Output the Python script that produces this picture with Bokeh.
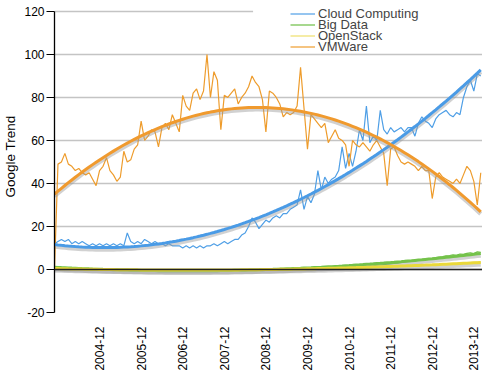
import numpy as np
from bokeh.plotting import figure
from bokeh.models import Range1d, FixedTicker, Span, BoxAnnotation, Legend, LegendItem
from bokeh.embed import file_html
from bokeh.resources import INLINE

# ---------------- data (monthly readings, 2004-01 .. 2014-04) ----------------
tick_labels = ["2004-12", "2005-12", "2006-12", "2007-12", "2008-12",
               "2009-12", "2010-12", "2011-12", "2012-12", "2013-12"]
y_ticks = [-20, 0, 20, 40, 60, 80, 100, 120]

cloud = [12, 13, 14, 13, 14, 12, 13, 12, 13, 12,
         11, 12, 11, 12, 11, 12, 11, 12, 11, 12,
         11, 17, 13, 12, 13, 12, 14, 13, 12, 13,
         12, 12, 11, 12, 11, 11, 11, 10, 11, 10,
         11, 10, 11, 10, 11, 11, 12, 11, 12, 13,
         12, 13, 14, 14, 16, 17, 20, 24, 22, 19,
         21, 23, 22, 24, 25, 24, 26, 26, 28, 29,
         30, 37, 28, 34, 31, 35, 46, 37, 43, 40,
         42, 43, 46, 57, 47, 54, 48, 55, 65, 60,
         76, 59, 62, 60, 74, 65, 63, 66, 64, 65,
         66, 64, 66, 66, 62, 68, 71, 69, 68, 66,
         70, 72, 73, 74, 72, 71, 73, 72, 80, 85,
         88, 83, 91, 90]

vmware = [0, 49, 50, 54, 49, 48, 46, 47, 45, 44,
          45, 42, 39, 46, 48, 52, 46, 44, 41, 43,
          55, 50, 51, 56, 58, 69, 60, 62, 65, 64,
          57, 66, 68, 65, 72, 68, 64, 81, 76, 74,
          82, 84, 79, 83, 100, 80, 92, 88, 65, 81,
          80, 82, 84, 77, 80, 82, 85, 90, 87, 85,
          79, 64, 83, 82, 80, 77, 71, 73, 72, 73,
          76, 94, 75, 56, 72, 70, 68, 66, 68, 59,
          62, 65, 61, 60, 58, 48, 60, 58, 57, 59,
          57, 55, 58, 60, 57, 54, 39, 56, 57, 53,
          50, 49, 50, 49, 48, 46, 48, 46, 46, 33,
          43, 45, 43, 42, 41, 40, 42, 40, 44, 48,
          46, 41, 30, 45]

bigdata = [0] * 70 + [
    0.3, 0.3, 0.4, 0.4, 0.5, 0.5, 0.6, 0.6, 0.7, 0.8,
    0.8, 0.9, 1.0, 1.0, 1.1, 1.2, 1.3, 1.3, 1.4, 1.5,
    1.6, 1.7, 1.8, 2.0, 2.1, 2.3, 2.5, 2.6, 2.8, 3.0,
    3.2, 3.4, 3.6, 3.8, 4.0, 4.3, 4.5, 4.8, 5.0, 5.2,
    5.5, 5.8, 6.0, 6.3, 6.5, 6.8, 6.6, 7.2, 7.0, 7.5,
    7.8, 7.4, 8.2, 8.0]

openstack = [0] * 80 + [
    0.1, 0.2, 0.2, 0.3, 0.4, 0.5, 0.5, 0.6, 0.7, 0.8,
    0.8, 0.9, 1.0, 1.0, 1.1, 1.2, 1.3, 1.3, 1.4, 1.5,
    1.6, 1.7, 1.8, 1.8, 1.9, 2.0, 2.1, 2.2, 2.2, 2.3,
    2.4, 2.5, 2.6, 2.6, 2.7, 2.8, 2.9, 3.0, 3.0, 3.1,
    3.2, 3.3, 3.4, 3.5]

months = list(range(len(cloud)))
tick_pos = [13 + 12 * k for k in range(len(tick_labels))]

series = [("Cloud Computing", cloud, "#4F9FE6", "#4A9BE6"),
          ("Big Data", bigdata, "#6DBF45", "#74C24A"),
          ("OpenStack", openstack, "#EEE06A", "#EAD93A"),
          ("VMWare", vmware, "#EE9C2C", "#F09A2E")]

FONT = "Liberation Sans"

# frame spans the full top of the canvas; y=120 falls 11px below the top
p = figure(width=482, height=374, output_backend="svg", toolbar_location=None,
           x_range=Range1d(0, 123.5), y_range=Range1d(-20, 125.1),
           min_border_left=49, min_border_right=0, min_border_top=0,
           min_border_bottom=62)
p.outline_line_color = None
p.background_fill_color = "white"
p.border_fill_color = "white"

p.xgrid.visible = False
p.ygrid.ticker = FixedTicker(ticks=y_ticks)
p.ygrid.grid_line_color = "#c4c4c4"
p.ygrid.grid_line_width = 1.3

# hide part of the top gridline behind the legend area
mask = BoxAnnotation(left=57.3, bottom=119, fill_color="white", fill_alpha=1,
                     line_color=None, level="underlay")
p.add_layout(mask)

# y axis
p.yaxis.ticker = FixedTicker(ticks=y_ticks)
p.yaxis.bounds = (y_ticks[0], y_ticks[-1])
p.yaxis.major_label_overrides = {t: str(t) for t in y_ticks}
p.yaxis.axis_line_color = "black"
p.yaxis.axis_line_width = 1.3
p.yaxis.major_tick_line_color = "black"
p.yaxis.major_tick_line_width = 1.2
p.yaxis.major_tick_out = 8
p.yaxis.major_tick_in = 0
p.yaxis.minor_tick_line_color = None
p.yaxis.major_label_standoff = 2
p.yaxis.major_label_text_font = FONT
p.yaxis.major_label_text_font_size = "12px"
p.yaxis.major_label_text_color = "black"
p.yaxis.axis_label = "Google Trend"
p.yaxis.axis_label_text_font = FONT
p.yaxis.axis_label_text_font_size = "13.5px"
p.yaxis.axis_label_text_font_style = "normal"
p.yaxis.axis_label_text_color = "black"
p.yaxis.axis_label_standoff = 3

# x axis
p.xaxis.ticker = FixedTicker(ticks=tick_pos)
p.xaxis.major_label_overrides = {t: lab for t, lab in zip(tick_pos, tick_labels)}
p.xaxis.major_label_orientation = np.pi / 2
p.xaxis.axis_line_color = None
p.xaxis.major_tick_line_color = None
p.xaxis.minor_tick_line_color = None
p.xaxis.major_label_standoff = 8
p.xaxis.major_label_text_font = FONT
p.xaxis.major_label_text_font_size = "12px"
p.xaxis.major_label_text_color = "black"

# zero line
p.add_layout(Span(location=0, dimension="width", line_color="#222222",
                  line_width=1.5))

x = np.array(months, dtype=float)
# data lines
data_renderers = []
for name, vals, col, _ in series:
    r = p.line(x, vals, line_color=col, line_width=1.2)
    data_renderers.append((name, r))

# polynomial (order 2) trend lines with shadow
for name, vals, _, tcol in series:
    coef = np.polyfit(x, np.array(vals, dtype=float), 2)
    trend = np.polyval(coef, x)
    p.line(x, trend - 0.9, line_color="#9a9a9a", line_alpha=0.45, line_width=4.5)
    p.line(x, trend, line_color=tcol, line_width=3)

# legend: one single-item legend per row so rows can sit tightly together
row_bottoms = [291, 280, 269, 258]
for (name, r), yb in zip(data_renderers, row_bottoms):
    lg = Legend(items=[LegendItem(label=name, renderers=[r])],
                location=(236, yb), padding=0, margin=0, spacing=0,
                glyph_width=25, glyph_height=11, label_height=11,
                label_standoff=3, label_text_font=FONT,
                label_text_font_size="13px", border_line_color=None,
                background_fill_alpha=0)
    p.add_layout(lg)

open("out.html", "w").write(file_html(p, INLINE))
